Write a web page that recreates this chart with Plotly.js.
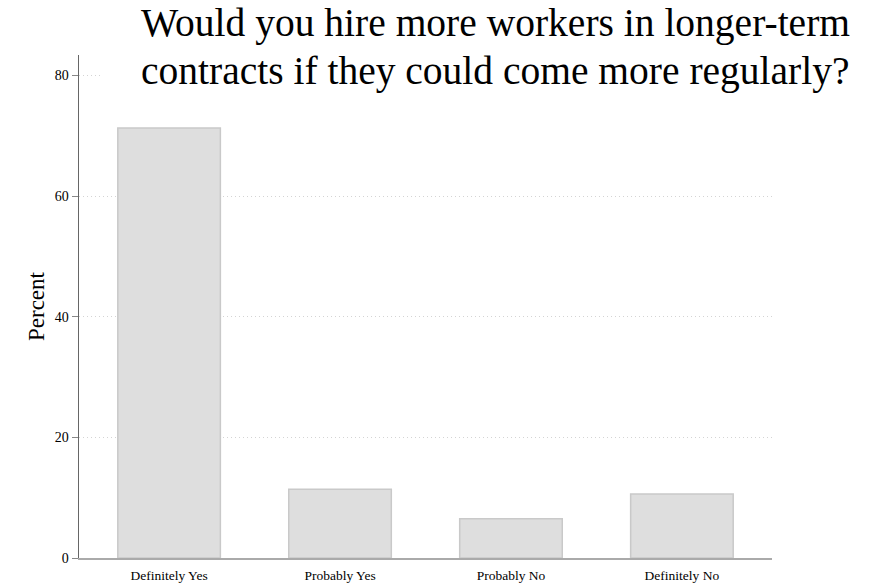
<!DOCTYPE html>
<html>
<head>
<meta charset="utf-8">
<script src="https://cdn.plot.ly/plotly-3.0.1.min.js"></script>
<style>html,body{margin:0;padding:0;background:#fff;}#chart{width:886px;height:583px;}</style>
</head>
<body>
<div id="chart"></div>
<script>
const categories = ["Definitely Yes", "Probably Yes", "Probably No", "Definitely No"];
const percentValues = [71.3, 11.4, 6.5, 10.6];
const yTickValues = [0, 20, 40, 60, 80];
const yTickLabels = ["0", "20", "40", "60", "80"];
const titleLines = ["Would you hire more workers in longer-term", "contracts if they could come more regularly?"];
const yAxisTitle = "Percent";

const serif = "'Liberation Serif', 'Times New Roman', serif";

const trace = {
  type: "bar",
  x: categories,
  y: percentValues,
  width: 0.6,
  marker: { color: "#dedede", line: { color: "#c9c9c9", width: 1.5 } },
  hoverinfo: "x+y"
};

// pixel -> paper helpers (plot area: x 79..772, y 55..558)
const px = v => (v - 79) / 693;
const py = v => (558 - v) / 503;

const layout = {
  width: 886,
  height: 583,
  margin: { l: 79, r: 114, t: 55, b: 25 },
  paper_bgcolor: "#ffffff",
  plot_bgcolor: "#ffffff",
  showlegend: false,
  font: { family: serif, color: "#000" },
  xaxis: {
    type: "category",
    range: [-0.527, 3.527],
    showline: true,
    linecolor: "#aaaaaa",
    linewidth: 1.5,
    showgrid: false,
    zeroline: false,
    ticks: "outside",
    ticklen: 4,
    tickcolor: "rgba(0,0,0,0)",
    tickfont: { family: serif, size: 13.5, color: "#000" },
    fixedrange: true
  },
  yaxis: {
    range: [0, 83.4],
    tickvals: yTickValues,
    ticktext: yTickLabels,
    showline: true,
    linecolor: "#666666",
    linewidth: 1.5,
    ticks: "outside",
    ticklen: 6,
    tickwidth: 1,
    tickcolor: "#888888",
    showgrid: true,
    gridcolor: "#d4d4d4",
    griddash: "1px,3px",
    gridwidth: 1,
    zeroline: false,
    tickfont: { family: serif, size: 14, color: "#000" },
    title: { text: yAxisTitle, font: { family: serif, size: 23, color: "#000" }, standoff: 3 },
    fixedrange: true
  },
  shapes: [{
    type: "rect", xref: "paper", yref: "paper",
    x0: px(101), x1: 1.2,
    y0: py(100), y1: 1.12,
    fillcolor: "#ffffff", line: { width: 0 }, layer: "above"
  }],
  annotations: titleLines.map((t, i) => ({
    xref: "paper", yref: "paper",
    x: px(140), xanchor: "left",
    y: py(i === 0 ? 23 : 71), yanchor: "middle",
    align: "left",
    showarrow: false,
    borderpad: 0,
    text: t,
    font: { family: serif, size: 39.5, color: "#000" }
  }))
};

Plotly.newPlot("chart", [trace], layout, { displayModeBar: false, staticPlot: true });
</script>
</body>
</html>
